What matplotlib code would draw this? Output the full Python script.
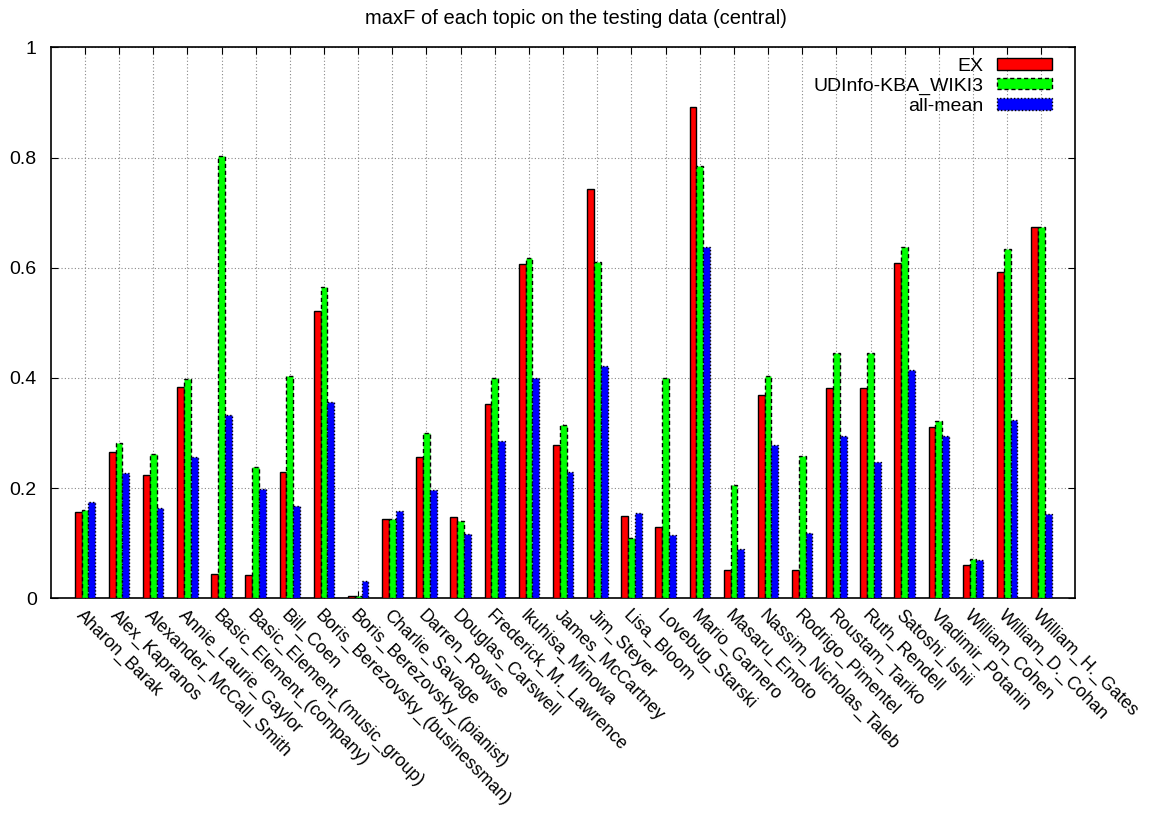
import numpy as np
import matplotlib
matplotlib.use("Agg")
import matplotlib.pyplot as plt

plt.rcParams["font.family"] = ["Liberation Sans", "DejaVu Sans"]

topics = [
    "Aharon_Barak", "Alex_Kapranos", "Alexander_McCall_Smith",
    "Annie_Laurie_Gaylor", "Basic_Element_(company)",
    "Basic_Element_(music_group)", "Bill_Coen",
    "Boris_Berezovsky_(businessman)", "Boris_Berezovsky_(pianist)",
    "Charlie_Savage", "Darren_Rowse", "Douglas_Carswell",
    "Frederick_M._Lawrence", "Ikuhisa_Minowa", "James_McCartney",
    "Jim_Steyer", "Lisa_Bloom", "Lovebug_Starski", "Mario_Garnero",
    "Masaru_Emoto", "Nassim_Nicholas_Taleb", "Rodrigo_Pimentel",
    "Roustam_Tariko", "Ruth_Rendell", "Satoshi_Ishii", "Vladimir_Potanin",
    "William_Cohen", "William_D._Cohan", "William_H._Gates",
]

ex = [0.156, 0.266, 0.224, 0.384, 0.044, 0.042, 0.230, 0.522, 0.005,
      0.143, 0.256, 0.147, 0.353, 0.607, 0.279, 0.743, 0.150, 0.129,
      0.892, 0.052, 0.369, 0.051, 0.382, 0.382, 0.608, 0.311, 0.060,
      0.593, 0.673]
udinfo = [0.161, 0.282, 0.261, 0.398, 0.803, 0.239, 0.404, 0.565, 0.004,
          0.144, 0.300, 0.140, 0.400, 0.617, 0.314, 0.610, 0.110, 0.400,
          0.785, 0.205, 0.404, 0.258, 0.446, 0.446, 0.637, 0.322, 0.071,
          0.634, 0.673]
all_mean = [0.175, 0.227, 0.163, 0.256, 0.333, 0.199, 0.167, 0.357, 0.032,
            0.158, 0.196, 0.117, 0.286, 0.399, 0.230, 0.421, 0.155, 0.114,
            0.637, 0.090, 0.279, 0.118, 0.295, 0.247, 0.414, 0.295, 0.069,
            0.324, 0.153]

series = [
    ("EX", ex, "#ff0000", "solid"),
    ("UDInfo-KBA_WIKI3", udinfo, "#00ff00", (0, (3, 2))),
    ("all-mean", all_mean, "#0000ff", (0, (1, 1.5))),
]

fig = plt.figure(figsize=(11.51, 8.13), dpi=100)
ax = fig.add_axes([0.0441, 0.2641, 0.8903, 0.6777])

x = np.arange(len(topics))
width = 0.2
for i, (name, vals, color, ls) in enumerate(series):
    ax.bar(x + (i - 1) * width, vals, width, color=color, edgecolor="black",
           linewidth=1.0, linestyle=ls, label=name, zorder=3)

ax.set_xlim(-1, 29)
ax.set_ylim(0, 1)
ax.set_yticks(np.arange(0, 1.01, 0.2))
ax.set_yticklabels(["0", "0.2", "0.4", "0.6", "0.8", "1"])
ax.set_xticks(x)
ax.tick_params(direction="in", top=True, right=True, length=5, width=0.8)
ax.tick_params(axis="y", pad=10, labelsize=14)
ax.tick_params(axis="x", pad=6)
ax.set_xticklabels(topics, rotation=-45, ha="left", va="top",
                   rotation_mode="anchor", fontsize=12.8)
ax.grid(True, color="#888888", linestyle=(0, (1, 2)), linewidth=0.8,
        zorder=0)
for sp in ax.spines.values():
    sp.set_linewidth(1.2)

# title is centred on the whole figure, not on the axes box
fig.text(0.5, 0.9705, "maxF of each topic on the testing data (central)",
         ha="center", va="baseline", fontsize=14.5)

ax.legend(loc="upper right", bbox_to_anchor=(0.977, 0.981), frameon=False,
          markerfirst=False, fontsize=14, handlelength=2.85,
          handleheight=0.52, labelspacing=0.15, borderpad=0,
          borderaxespad=0, handletextpad=0.65)

fig.savefig("out.png", dpi=100)
